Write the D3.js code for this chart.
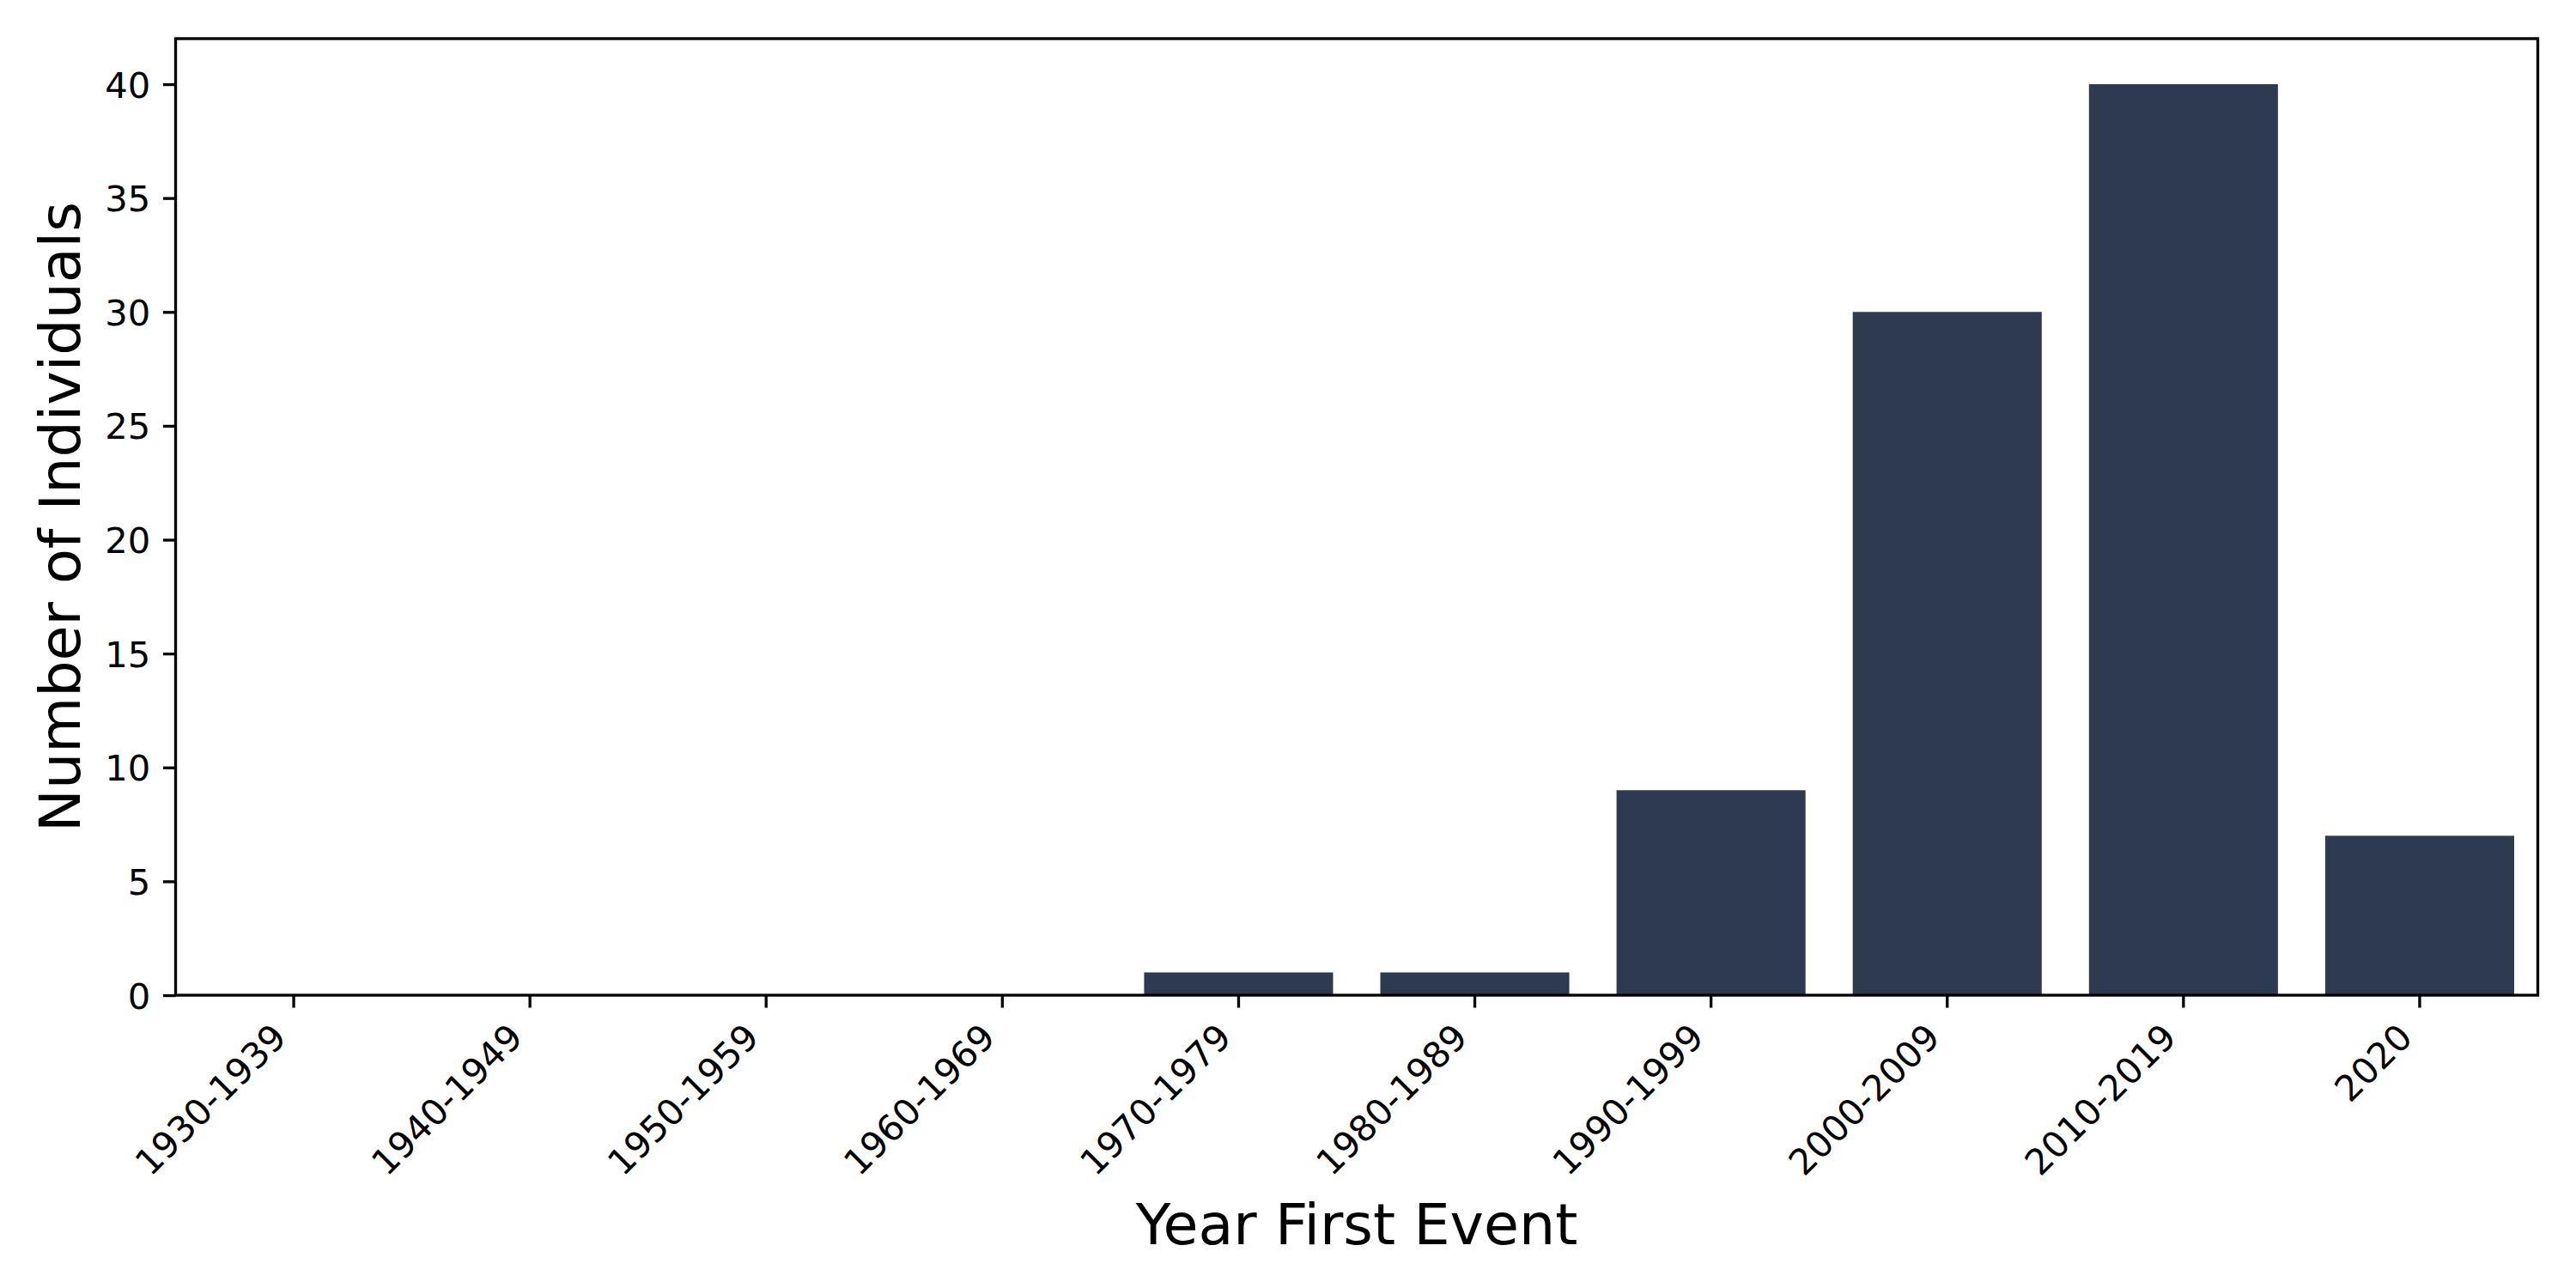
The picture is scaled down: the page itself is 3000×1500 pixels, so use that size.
<!DOCTYPE html>
<html>
<head>
<meta charset="utf-8">
<script src="https://cdn.jsdelivr.net/npm/d3@7/dist/d3.min.js"></script>
<style>
  html, body { margin: 0; padding: 0; background: #ffffff; }
  svg { display: block; }
  text { font-family: "DejaVu Sans", sans-serif; fill: #000; }
</style>
</head>
<body>
<script>
// ---- data ----
const categories = ["1930-1939", "1940-1949", "1950-1959", "1960-1969", "1970-1979",
                    "1980-1989", "1990-1999", "2000-2009", "2010-2019", "2020"];
const counts = [0, 0, 0, 0, 1, 1, 9, 30, 40, 7];
const yTicks = [0, 5, 10, 15, 20, 25, 30, 35, 40];
const xLabel = "Year First Event";
const yLabel = "Number of Individuals";

// ---- layout ----
const W = 3000, H = 1500;
const plot = { left: 204.5, right: 2955.5, top: 45, bottom: 1159 };
const barColor = "#2e3a50";
const tickFont = 41.67, labelFont = 66.67;
const tickLen = 14.6, tickPad = 14.6, lw = 3.33;

const svg = d3.select("body").append("svg")
  .attr("width", W).attr("height", H).attr("viewBox", `0 0 ${W} ${H}`);

const x = d3.scaleBand().domain(categories)
  .range([plot.left, plot.right]).paddingInner(0.2).paddingOuter(0.1);
const y = d3.scaleLinear().domain([0, 42]).range([plot.bottom, plot.top]);

// bars
svg.append("g").selectAll("rect").data(categories.map((c, i) => ({ c, v: counts[i] })))
  .join("rect")
  .attr("x", d => x(d.c))
  .attr("width", x.bandwidth())
  .attr("y", d => y(d.v))
  .attr("height", d => y(0) - y(d.v))
  .attr("fill", barColor);

// x axis
const xAxis = d3.axisBottom(x).tickSize(tickLen).tickPadding(tickPad).tickSizeOuter(0);
const gx = svg.append("g").attr("transform", `translate(0,${plot.bottom})`).call(xAxis);
gx.select(".domain").remove();
gx.selectAll(".tick line").attr("stroke", "#000").attr("stroke-width", lw);
const asc = 0.76 * tickFont, desc = 0.21 * tickFont;
gx.selectAll(".tick text")
  .attr("font-size", tickFont)
  .attr("text-anchor", "end")
  .attr("dy", null)
  .attr("y", null)
  .attr("transform", `translate(${-0.7071 * desc},${tickLen + tickPad + 0.7071 * asc}) rotate(-45)`);

// y axis
const yAxis = d3.axisLeft(y).tickValues(yTicks).tickSize(tickLen).tickPadding(tickPad).tickSizeOuter(0);
const gy = svg.append("g").attr("transform", `translate(${plot.left},0)`).call(yAxis);
gy.select(".domain").remove();
gy.selectAll(".tick line").attr("stroke", "#000").attr("stroke-width", lw);
gy.selectAll(".tick text").attr("font-size", tickFont).attr("dy", "0.36em");

// frame (spines)
svg.append("rect")
  .attr("x", plot.left).attr("y", plot.top)
  .attr("width", plot.right - plot.left).attr("height", plot.bottom - plot.top)
  .attr("fill", "none").attr("stroke", "#000").attr("stroke-width", lw)
  .attr("stroke-linejoin", "miter");

// axis labels
svg.append("text")
  .attr("x", (plot.left + plot.right) / 2).attr("y", 1449)
  .attr("text-anchor", "middle").attr("font-size", labelFont)
  .text(xLabel);

svg.append("text")
  .attr("transform", `translate(93,${(plot.top + plot.bottom) / 2}) rotate(-90)`)
  .attr("text-anchor", "middle").attr("font-size", labelFont)
  .text(yLabel);
</script>
</body>
</html>
